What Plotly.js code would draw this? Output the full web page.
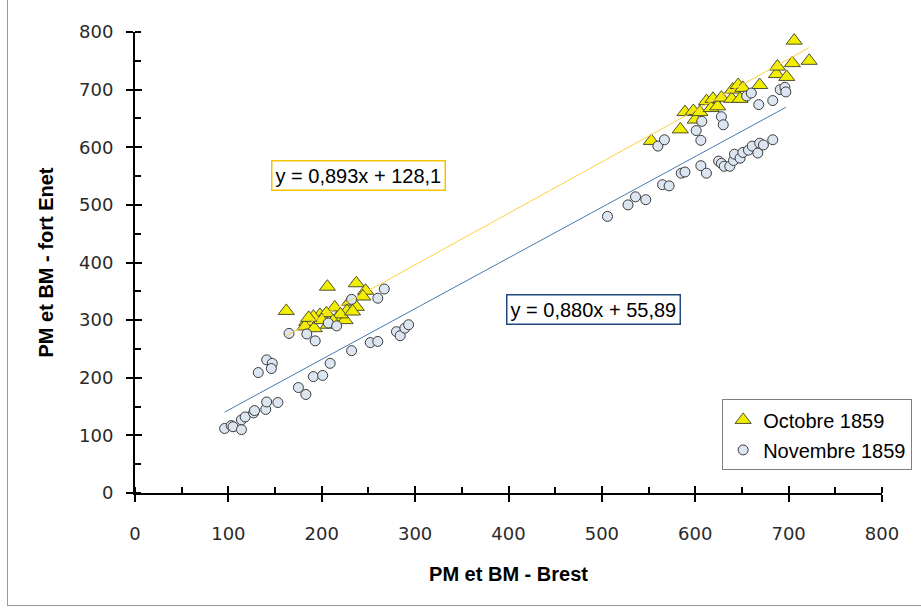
<!DOCTYPE html>
<html>
<head>
<meta charset="utf-8">
<script src="https://cdn.plot.ly/plotly-3.0.1.min.js"></script>
<style>
  html, body { margin: 0; padding: 0; background: #ffffff; }
  #wrap { position: relative; width: 921px; height: 608px; }
  #chart { width: 921px; height: 608px; }
  #frame { position: absolute; left: 7px; top: -2px; width: 930px; height: 607px;
           border-left: 1px solid #9a9a9a; border-bottom: 1px solid #9a9a9a; pointer-events: none; }
</style>
</head>
<body>
<div id="wrap">
  <div id="chart"></div>
  <div id="frame"></div>
</div>
<script>
// ---- Data ----
const seriesNames = ['Octobre 1859', 'Novembre 1859'];

// Octobre 1859 (triangles)
const octX = [162, 206, 237, 247, 244, 230, 214, 227, 237, 198, 191, 184, 182, 192, 207, 216, 225, 205, 220, 233, 200, 212, 186,
              553, 584, 589, 598, 600, 605, 612, 617, 619, 624, 628, 639, 640, 646, 648, 651, 669, 687, 688, 698, 704, 706, 722];
const octY = [316, 358, 364, 351, 341, 332, 322, 316, 323, 309, 306, 297, 289, 286, 292, 303, 300, 312, 310, 315, 300, 298, 304,
              611, 631, 661, 663, 648, 661, 680, 668, 684, 671, 686, 684, 700, 708, 684, 703, 708, 727, 740, 722, 746, 785, 750];

// Novembre 1859 (circles)
const novX = [96, 103, 105, 114, 114, 118, 127, 128, 140, 141, 153, 132, 141, 147, 146, 175, 183, 191, 201, 209,
              165, 184, 193, 207, 216, 232, 260, 267, 232, 252, 260, 280, 284, 289, 293,
              506, 528, 536, 547, 565, 572, 585, 589, 606, 612, 625, 628, 631, 637, 641, 642, 648, 651, 657, 661, 667, 669, 673, 683,
              560, 567, 601, 606, 607, 628, 630, 655, 660, 668, 683, 691, 696, 697];
const novY = [112, 117, 115, 110, 127, 132, 139, 143, 145, 158, 157, 209, 231, 225, 216, 183, 171, 202, 204, 225,
              277, 276, 264, 295, 290, 336, 338, 354, 247, 261, 263, 280, 273, 286, 292,
              480, 500, 514, 509, 535, 533, 555, 557, 568, 555, 576, 572, 567, 567, 577, 588, 581, 591, 595, 602, 590, 607, 604, 613,
              602, 613, 629, 612, 645, 653, 639, 689, 694, 674, 681, 700, 704, 696];

// Linear trendlines as printed on the chart
const trendSlope = [0.893, 0.880];
const trendIntercept = [128.1, 55.89];
const trendLabels = ['y = 0,893x + 128,1', 'y = 0,880x + 55,89'];

// Axes
const xTitle = 'PM et BM - Brest';
const yTitle = 'PM et BM - fort Enet';
const axisRange = [0, 800];

// ---- Build traces ----
function trend(xs, i) {
  const lo = Math.min(...xs), hi = Math.max(...xs);
  return { x: [lo, hi], y: [lo, hi].map(v => trendSlope[i] * v + trendIntercept[i]) };
}
const tOct = trend(octX, 0);
const tNov = trend(novX, 1);

const traces = [
  { x: octX, y: octY, name: seriesNames[0], type: 'scatter', mode: 'markers', legendgroup: 'a',
    marker: { symbol: 'triangle-up', size: 14, color: '#F2EE00', line: { color: '#505030', width: 1 } } },
  { x: novX, y: novY, name: seriesNames[1], type: 'scatter', mode: 'markers', legendgroup: 'b',
    marker: { symbol: 'circle', size: 10, color: '#DCE6F2', line: { color: '#3a3a3a', width: 1 } } },
  { x: tOct.x, y: tOct.y, type: 'scatter', mode: 'lines', showlegend: false, hoverinfo: 'skip',
    line: { color: '#FFD23F', width: 1 } },
  { x: tNov.x, y: tNov.y, type: 'scatter', mode: 'lines', showlegend: false, hoverinfo: 'skip',
    line: { color: '#4A7AAE', width: 1 } },
  { x: [], y: [], xaxis: 'x2', yaxis: 'y2', type: 'scatter', mode: 'markers', showlegend: false }
];

const tickFont = { family: 'DejaVu Sans, Verdana, sans-serif', size: 18, color: '#2a2a2a' };
const titleFont = { family: 'Liberation Sans, Arial, sans-serif', size: 20, color: '#000000', weight: 'bold' };
const textFont = { family: 'Liberation Sans, Arial, sans-serif', size: 20, color: '#000000' };

const layout = {
  width: 921, height: 608,
  margin: { l: 135, r: 39, t: 32, b: 115, autoexpand: false },
  paper_bgcolor: '#ffffff', plot_bgcolor: '#ffffff',
  showlegend: true,
  legend: {
    x: 0.786, y: 0.203, xanchor: 'left', yanchor: 'top',
    bgcolor: '#ffffff', bordercolor: '#7f7f7f', borderwidth: 1,
    font: { family: 'Liberation Sans, Arial, sans-serif', size: 20, color: '#000000' },
    traceorder: 'grouped', tracegroupgap: 1, itemwidth: 30
  },
  xaxis: {
    range: axisRange, dtick: 100, tick0: 0, showgrid: false, zeroline: false,
    showline: true, linecolor: '#000000', linewidth: 2,
    ticks: 'outside', ticklen: 7, tickwidth: 2, tickcolor: '#000000',
    minor: { ticks: 'inside', dtick: 50, ticklen: 6, tickwidth: 2, tickcolor: '#000000', showgrid: false },
    tickfont: tickFont, ticklabelstandoff: 16,
    title: { text: xTitle, font: titleFont, standoff: 24 },
    automargin: false, fixedrange: true
  },
  yaxis: {
    range: axisRange, dtick: 100, tick0: 0, showgrid: false, zeroline: false,
    showline: true, linecolor: '#000000', linewidth: 2,
    ticks: 'outside', ticklen: 7, tickwidth: 2, tickcolor: '#000000',
    minor: { ticks: 'inside', dtick: 50, ticklen: 6, tickwidth: 2, tickcolor: '#000000', showgrid: false },
    tickfont: tickFont, ticklabelstandoff: 9,
    title: { text: yTitle, font: titleFont, standoff: 20 },
    automargin: false, fixedrange: true
  },
  xaxis2: {
    overlaying: 'x', anchor: 'y2', range: axisRange, dtick: 100, tick0: 0,
    showgrid: false, zeroline: false, showline: false, showticklabels: false,
    ticks: 'inside', ticklen: 7, tickwidth: 2, tickcolor: '#000000', fixedrange: true
  },
  yaxis2: {
    overlaying: 'y', anchor: 'x2', range: axisRange, dtick: 100, tick0: 0,
    showgrid: false, zeroline: false, showline: false, showticklabels: false,
    ticks: 'inside', ticklen: 7, tickwidth: 2, tickcolor: '#000000', fixedrange: true
  },
  annotations: [
    { xref: 'x', yref: 'y', x: 239, y: 551, text: trendLabels[0], showarrow: false,
      font: textFont, bgcolor: '#ffffff', bordercolor: '#F5C400', borderwidth: 1.5, borderpad: 3 },
    { xref: 'x', yref: 'y', x: 491, y: 318, text: trendLabels[1], showarrow: false,
      font: textFont, bgcolor: '#ffffff', bordercolor: '#1F497D', borderwidth: 1.5, borderpad: 3 }
  ]
};

Plotly.newPlot('chart', traces, layout, { displayModeBar: false, staticPlot: true });
</script>
</body>
</html>
